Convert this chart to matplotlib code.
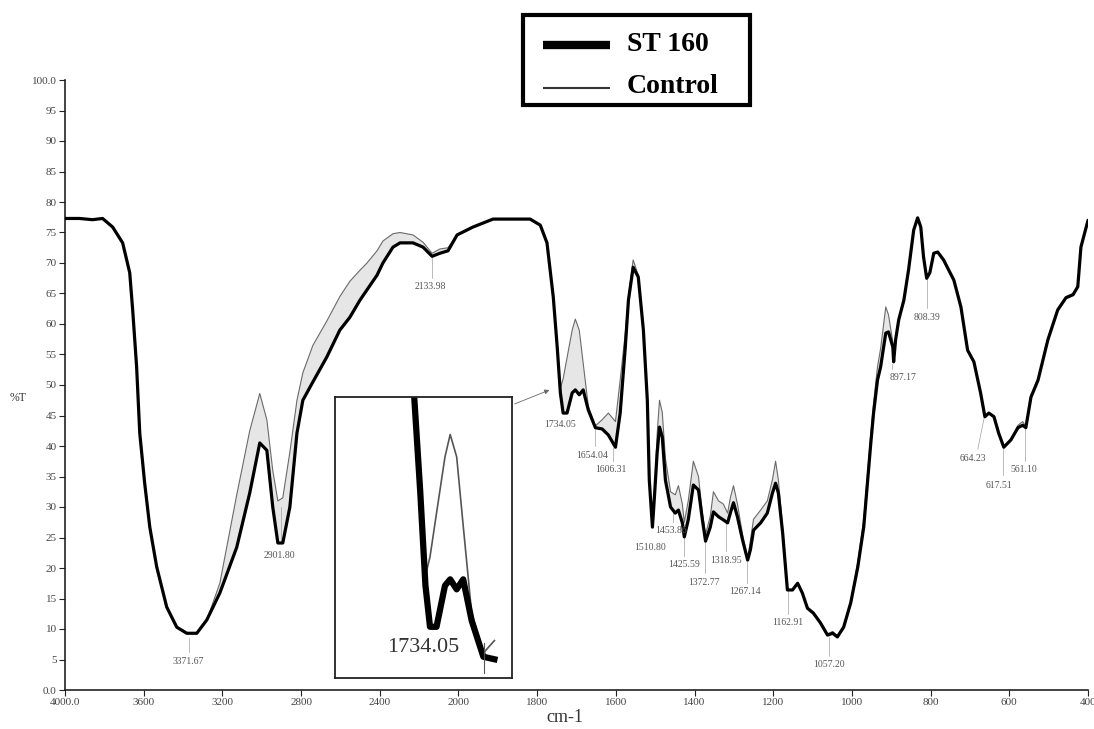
import numpy as np
import matplotlib
matplotlib.use('Agg')
import matplotlib.pyplot as plt
from matplotlib.patches import Rectangle

plt.rcParams['font.family'] = ['Liberation Serif', 'DejaVu Serif']

# FTIR traces (wavenumber in cm-1, %T)
wavenumber = [4000, 3926, 3860, 3809, 3758, 3707, 3671, 3656, 3636, 3620, 3595, 3569, 3534,
              3483, 3432, 3381, 3330, 3279, 3213, 3127, 3061, 3010, 2974, 2944, 2918, 2893,
              2857, 2821, 2791, 2740, 2669, 2603, 2552, 2501, 2465, 2414, 2384, 2333, 2297,
              2231, 2180, 2134, 2094, 2053, 2007, 1963, 1912, 1818, 1792, 1775, 1759, 1749,
              1741, 1734, 1724, 1711, 1703, 1693, 1683, 1670, 1652, 1635, 1619, 1601, 1589,
              1576, 1568, 1556, 1543, 1530, 1520, 1515, 1507, 1502, 1495, 1489, 1482, 1474,
              1461, 1449, 1441, 1431, 1426, 1416, 1403, 1390, 1380, 1372, 1360, 1352, 1339,
              1327, 1316, 1309, 1301, 1291, 1278, 1265, 1258, 1250, 1232, 1215, 1202, 1194,
              1187, 1176, 1164, 1151, 1138, 1126, 1113, 1098, 1080, 1062, 1049, 1037, 1021,
              1003, 985, 970, 952, 945, 935, 927, 914, 907, 896, 894, 889, 881, 868, 856,
              843, 833, 825, 818, 810, 802, 792, 782, 767, 741, 723, 706, 690, 673, 662,
              652, 639, 627, 614, 596, 578, 566, 558, 545, 527, 502, 477, 456, 438, 426,
              418, 400]
st160 = [77.3, 77.3, 77.1, 77.3, 75.9, 73.3, 68.4, 62.3, 53.0, 42.1, 33.9, 26.7, 20.2,
         13.6, 10.3, 9.3, 9.3, 11.5, 15.9, 23.4, 32.3, 40.5, 39.3, 30.0, 24.1, 24.1,
         30.0, 42.1, 47.5, 50.5, 54.6, 59.0, 61.1, 63.9, 65.6, 68.0, 70.0, 72.6, 73.3,
         73.3, 72.6, 71.1, 71.6, 72.0, 74.6, 75.9, 77.2, 77.2, 76.2, 73.3, 64.4, 56.2,
         48.7, 45.4, 45.4, 48.7, 49.2, 48.4, 49.2, 45.9, 43.0, 42.8, 41.8, 39.8, 45.4,
         56.2, 63.9, 69.3, 67.7, 59.0, 47.5, 34.4, 26.7, 31.6, 38.9, 43.1, 41.5, 34.4,
         30.0, 29.0, 29.5, 27.4, 25.1, 27.9, 33.6, 32.8, 27.9, 24.4, 26.7, 29.2, 28.4,
         27.9, 27.4, 29.0, 30.7, 28.4, 24.6, 21.3, 23.0, 26.2, 27.4, 29.0, 32.3, 33.9,
         32.3, 25.7, 16.4, 16.4, 17.5, 15.9, 13.4, 12.6, 11.0, 9.0, 9.3, 8.7, 10.3,
         14.3, 20.2, 26.7, 40.5, 45.4, 50.8, 53.0, 58.5, 58.7, 56.2, 53.8, 57.4, 60.7, 63.9, 68.9,
         75.4, 77.4, 75.9, 71.0, 67.5, 68.4, 71.6, 71.8, 70.5, 67.2, 62.8, 55.7, 53.8, 48.7, 44.8,
         45.4, 44.8, 42.1, 39.8, 41.0, 43.0, 43.4, 43.0, 48.0, 50.8, 57.4, 62.3, 64.3, 64.8, 66.1,
         72.6, 77.0]
control = [77.3, 77.3, 77.1, 77.3, 75.9, 73.3, 68.4, 62.3, 53.0, 42.1, 33.9, 26.7, 20.2,
           13.6, 10.3, 9.3, 9.3, 11.5, 17.5, 32.0, 42.5, 48.6, 44.3, 36.0, 31.0, 31.5,
           39.0, 47.5, 52.0, 56.5, 60.5, 64.5, 67.0, 68.8, 70.0, 72.0, 73.6, 74.8, 75.0,
           74.6, 73.4, 71.6, 72.3, 72.5, 74.6, 75.9, 77.2, 77.2, 76.2, 73.3, 64.4, 56.2,
           49.5, 51.0, 54.5, 59.0, 60.8, 59.0, 53.5, 46.5, 43.3, 44.3, 45.4, 44.0, 50.8,
           58.5, 64.5, 70.5, 68.0, 59.0, 47.5, 34.4, 26.7, 32.0, 42.0, 47.5, 45.5, 38.0,
           32.5, 32.0, 33.5, 30.5, 27.5, 31.0, 37.5, 35.0, 29.0, 25.5, 28.5, 32.5, 31.0,
           30.5, 29.0, 31.5, 33.5, 30.5, 25.5, 21.5, 24.5, 28.0, 29.5, 31.0, 34.5, 37.5,
           34.5, 26.5, 16.4, 16.4, 17.6, 16.0, 13.6, 12.8, 11.2, 9.2, 9.6, 8.9, 10.5,
           14.6, 21.0, 28.0, 42.0, 47.0, 53.0, 56.0, 62.8, 61.5, 57.0, 54.5, 57.5, 61.0, 64.2, 69.0,
           75.4, 77.4, 75.9, 71.0, 67.5, 68.4, 71.6, 71.8, 70.5, 67.2, 62.8, 55.7, 53.8, 48.7, 44.8,
           45.4, 44.8, 42.1, 39.8, 41.0, 43.4, 44.0, 43.2, 48.3, 51.0, 57.6, 62.5, 64.5, 65.0, 66.3,
           72.6, 77.0]

# peak annotations: text, position of text, leader line
peak_text = ['3371.67', '2901.80', '2133.98', '1734.05', '1654.04', '1606.31', '1510.80',
             '1453.86', '1425.59', '1372.77', '1318.95', '1267.14', '1162.91', '1057.20',
             '897.17', '808.39', '664.23', '617.51', '561.10']
peak_tx = [3376, 2908, 2144, 1741, 1660, 1612, 1512, 1461, 1426, 1377, 1321, 1271, 1164,
           1059, 871, 810, 693, 627, 563]
peak_ty = [4.6, 22.1, 66.1, 43.6, 38.5, 36.1, 23.4, 26.2, 20.5, 17.7, 21.3, 16.1, 11.0,
           4.1, 51.3, 61.1, 38.0, 33.6, 36.1]
leaders = [(3372, 8.6, 3372, 6.2), (2902, 30.0, 2902, 24.5), (2134, 71.0, 2134, 67.6),
           (1654, 43.0, 1654, 40.0), (1606, 39.6, 1606, 37.5), (1454, 29.3, 1454, 27.5),
           (1426, 25.0, 1426, 22.0), (1373, 24.2, 1373, 19.2), (1319, 27.5, 1319, 22.8),
           (1267, 21.0, 1267, 17.6), (1163, 16.2, 1163, 12.5), (1057, 8.7, 1057, 5.6),
           (897, 53.5, 897, 52.6), (808, 67.3, 808, 62.6), (664, 44.6, 680, 39.5),
           (617, 39.6, 617, 35.2), (561, 42.8, 561, 37.6)]

xticks = [4000, 3600, 3200, 2800, 2400, 2000, 1800, 1600, 1400, 1200, 1000, 800, 600, 400]
xticklabels = ['4000.0', '3600', '3200', '2800', '2400', '2000', '1800', '1600', '1400',
               '1200', '1000', '800', '600', '400']
yticks = list(range(0, 101, 5))
yticklabels = ['0.0'] + [str(v) for v in yticks[1:-1]] + ['100.0']

W = 1094
H = 729
fig = plt.figure(figsize=(W / 100, H / 100), dpi=100)
fig.patch.set_facecolor('white')


def px_box(x0, y0, x1, y1):
    # pixel box (top-left origin) -> figure fraction rect
    return [x0 / W, 1 - y1 / H, (x1 - x0) / W, (y1 - y0) / H]


# x axis: 4000-2000 compressed by two, like the instrument printout
def fwd(w):
    w = np.asarray(w, dtype=float)
    return np.where(w > 2000, 2000 + (w - 2000) / 2.0, w)


def inv(u):
    u = np.asarray(u, dtype=float)
    return np.where(u > 2000, 2000 + (u - 2000) * 2.0, u)


wn = np.array(wavenumber, dtype=float)
st = np.array(st160)
ct = np.array(control)

ax = fig.add_axes(px_box(65, 80, 1088, 690))
ax.set_xscale('function', functions=(fwd, inv))
ax.set_xlim(4000, 400)
ax.set_ylim(0, 100)

ax.fill_between(wn, st, ct, where=ct > st, interpolate=True, color='#e6e6e6', lw=0, zorder=1)
ax.plot(wn, ct, color='#6a6a6a', lw=0.8, zorder=2)
ax.plot(wn, st, color='black', lw=2.3, solid_joinstyle='round', solid_capstyle='round', zorder=3)

for x0, y0, x1, y1 in leaders:
    ax.plot([x0, x1], [y0, y1], color='#a0a0a0', lw=0.5, zorder=1.5)
for t, x, y in zip(peak_text, peak_tx, peak_ty):
    ax.text(x, y, t, fontsize=7, color='#555555', ha='center', va='center', zorder=4)

for side in ['top', 'right']:
    ax.spines[side].set_visible(False)
for side in ['left', 'bottom']:
    ax.spines[side].set_linewidth(1.2)
    ax.spines[side].set_color('#222222')
ax.set_xticks(xticks)
ax.set_xticklabels(xticklabels)
ax.set_yticks(yticks)
ax.set_yticklabels(yticklabels)
ax.minorticks_off()
ax.tick_params(direction='out', length=4, width=0.8, color='#222222',
               labelsize=8, labelcolor='#444444', pad=2)

# inset: magnified 1734 region
iax = fig.add_axes(px_box(335, 397, 512, 678))
iax.set_xlim(1880, 1608)
iax.set_ylim(41.3, 63.8)
sel = (wn <= 1775) & (wn >= 1635)
iax.plot(wn[sel], ct[sel], color='#555555', lw=1.2)
iax.plot(wn[sel], st[sel], color='black', lw=4.5, solid_joinstyle='round')
iax.set_xticks([])
iax.set_yticks([])
for s in iax.spines.values():
    s.set_linewidth(1.3)
    s.set_color('#222222')
iax.text(0.497, 0.11, '1734.05', transform=iax.transAxes, fontsize=16, color='#333333',
         ha='center', va='center')
iax.plot([0.842, 0.842], [0.125, 0.018], transform=iax.transAxes, color='#555555', lw=0.8)

# overlay in pixel coordinates for legend, arrow and axis titles
ov = fig.add_axes([0, 0, 1, 1])
ov.set_xlim(0, W)
ov.set_ylim(H, 0)
ov.axis('off')
ov.patch.set_alpha(0)

ov.annotate('', xy=(552, 389), xytext=(512, 405),
            arrowprops=dict(arrowstyle='-|>', color='#666666', lw=0.6, mutation_scale=7))

ov.add_patch(Rectangle((523, 15), 227, 90, fill=True, facecolor='white',
                       edgecolor='black', lw=3))
ov.plot([543, 610], [45, 45], color='black', lw=6, solid_capstyle='butt')
ov.plot([543, 610], [88, 88], color='#333333', lw=1.5, solid_capstyle='butt')
ov.text(627, 44, 'ST 160', fontsize=20, fontweight='bold', va='center', ha='left')
ov.text(627, 86, 'Control', fontsize=20, fontweight='bold', va='center', ha='left')

ov.text(18, 398, '%T', fontsize=8.5, color='#333333', ha='center', va='center')
ov.text(565, 718, 'cm-1', fontsize=13, color='#333333', ha='center', va='center')

fig.savefig('out.png', dpi=100, facecolor='white')
